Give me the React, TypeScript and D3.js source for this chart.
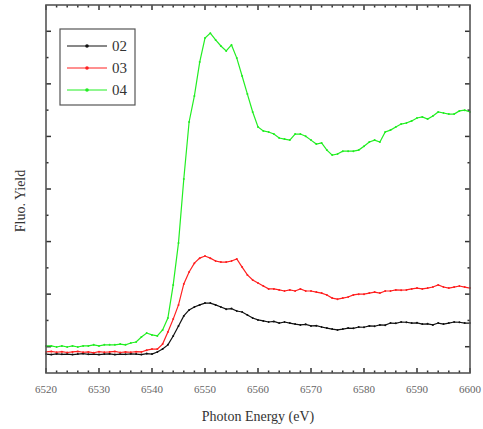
import React, { useEffect, useRef } from "react";
import * as d3 from "d3";

// photon energy grid (eV), one reading per eV
const energies = d3.range(6520, 6601);

const series02 = [
  0.72, 0.70, 0.73, 0.71, 0.72, 0.70, 0.72, 0.74, 0.71, 0.72, 0.70, 0.72, 0.73, 0.70, 0.72, 0.71,
  0.73, 0.72, 0.70, 0.74, 0.72, 0.80, 0.91, 1.07, 1.41, 1.79, 2.17, 2.40, 2.51, 2.59, 2.66, 2.66,
  2.59, 2.51, 2.43, 2.45, 2.36, 2.32, 2.21, 2.09, 2.02, 1.98, 1.94, 1.96, 1.90, 1.94, 1.90, 1.86,
  1.83, 1.85, 1.79, 1.80, 1.75, 1.71, 1.67, 1.64, 1.67, 1.71, 1.70, 1.75, 1.74, 1.79, 1.78, 1.83,
  1.82, 1.90, 1.89, 1.94, 1.93, 1.90, 1.91, 1.86, 1.87, 1.83, 1.90, 1.86, 1.90, 1.94, 1.93, 1.90,
  1.90,
];

const series03 = [
  0.80, 0.82, 0.79, 0.81, 0.78, 0.80, 0.82, 0.79, 0.80, 0.77, 0.81, 0.79, 0.80, 0.82, 0.78, 0.80,
  0.79, 0.81, 0.80, 0.87, 0.91, 0.91, 1.10, 1.56, 2.05, 2.59, 3.39, 3.84, 4.18, 4.37, 4.45, 4.37,
  4.26, 4.22, 4.22, 4.26, 4.34, 4.03, 3.73, 3.54, 3.42, 3.31, 3.20, 3.20, 3.16, 3.12, 3.16, 3.12,
  3.20, 3.12, 3.12, 3.08, 3.04, 2.97, 2.85, 2.81, 2.85, 2.89, 2.97, 3.00, 3.00, 3.04, 3.08, 3.04,
  3.12, 3.12, 3.16, 3.15, 3.16, 3.20, 3.23, 3.20, 3.23, 3.27, 3.35, 3.27, 3.23, 3.27, 3.31, 3.27,
  3.23,
];

const series04 = [
  1.03, 1.03, 0.99, 1.03, 0.99, 1.03, 0.99, 1.03, 1.03, 1.07, 1.03, 1.07, 1.07, 1.07, 1.10, 1.07,
  1.14, 1.18, 1.37, 1.52, 1.45, 1.41, 1.64, 2.09, 3.35, 4.95, 7.38, 9.55, 10.54, 11.83, 12.74,
  12.93, 12.67, 12.44, 12.25, 12.48, 11.98, 11.30, 10.61, 9.93, 9.36, 9.21, 9.17, 9.09, 8.94, 8.90,
  8.86, 9.09, 9.09, 9.01, 8.86, 8.71, 8.75, 8.48, 8.29, 8.33, 8.44, 8.44, 8.44, 8.48, 8.63, 8.79,
  8.86, 8.79, 9.17, 9.24, 9.36, 9.47, 9.51, 9.59, 9.70, 9.74, 9.66, 9.78, 9.93, 9.89, 9.85, 9.85,
  9.97, 10.0, 9.93,
];

const seriesNames = ["02", "03", "04"];
const seriesColors = ["#111111", "#ff2020", "#22ee22"];
const xTicks = [6520, 6530, 6540, 6550, 6560, 6570, 6580, 6590, 6600];

const W = 483;
const H = 429;
const margin = { top: 5, right: 13, bottom: 56, left: 46 };

const App = () => {
  const ref = useRef<SVGSVGElement>(null);

  useEffect(() => {
    const svg = d3.select(ref.current);
    svg.selectAll("*").remove();

    const x = d3
      .scaleLinear()
      .domain([6520, 6600])
      .range([margin.left, W - margin.right]);
    const y = d3
      .scaleLinear()
      .domain([0, 14])
      .range([H - margin.bottom, margin.top]);

    const all = [series02, series03, series04];

    // frame ticks, pointing inward
    const frame = svg.append("g").attr("stroke", "#333").attr("stroke-width", 1.5);
    d3.range(6520, 6601, 2).forEach((e) => {
      const len = e % 10 === 0 ? 5 : 2.5;
      frame.append("line").attr("x1", x(e)).attr("x2", x(e))
        .attr("y1", y(0)).attr("y2", y(0) - len);
      frame.append("line").attr("x1", x(e)).attr("x2", x(e))
        .attr("y1", y(14)).attr("y2", y(14) + len);
    });
    d3.range(1, 14).forEach((v) => {
      const len = v % 2 === 1 ? 5 : 2.5;
      frame.append("line").attr("x1", x(6520)).attr("x2", x(6520) + len)
        .attr("y1", y(v)).attr("y2", y(v));
      frame.append("line").attr("x1", x(6600)).attr("x2", x(6600) - len)
        .attr("y1", y(v)).attr("y2", y(v));
    });

    const line = d3
      .line<number>()
      .x((_, i) => x(energies[i]))
      .y((d) => y(d));

    all.forEach((s, k) => {
      svg.append("path")
        .datum(s)
        .attr("d", line)
        .attr("fill", "none")
        .attr("stroke", seriesColors[k])
        .attr("stroke-width", 1.2);
      svg.append("g")
        .selectAll("circle")
        .data(s)
        .join("circle")
        .attr("cx", (_, i) => x(energies[i]))
        .attr("cy", (d) => y(d))
        .attr("r", 1)
        .attr("fill", seriesColors[k]);
    });

    svg.append("rect")
      .attr("x", x(6520)).attr("y", y(14))
      .attr("width", x(6600) - x(6520)).attr("height", y(0) - y(14))
      .attr("fill", "none").attr("stroke", "#555").attr("stroke-width", 1.6);

    // tick labels
    svg.append("g")
      .selectAll("text")
      .data(xTicks)
      .join("text")
      .attr("x", (d) => x(d))
      .attr("y", y(0) + 20)
      .attr("text-anchor", "middle")
      .attr("font-family", "Liberation Serif, serif")
      .attr("font-size", 11)
      .attr("fill", "#666")
      .text((d) => d);

    svg.append("text")
      .attr("x", (x(6520) + x(6600)) / 2)
      .attr("y", 421)
      .attr("text-anchor", "middle")
      .attr("font-family", "Liberation Serif, serif")
      .attr("font-size", 14)
      .attr("fill", "#333")
      .text("Photon Energy (eV)");

    svg.append("text")
      .attr("transform", `translate(25,${(y(0) + y(14)) / 2 + 12}) rotate(-90)`)
      .attr("text-anchor", "middle")
      .attr("font-family", "Liberation Serif, serif")
      .attr("font-size", 14)
      .attr("fill", "#333")
      .text("Fluo. Yield");

    // legend
    const lg = svg.append("g").attr("transform", "translate(60,29)");
    lg.append("rect")
      .attr("width", 75).attr("height", 76)
      .attr("fill", "white").attr("stroke", "#555").attr("stroke-width", 1.2);
    seriesNames.forEach((n, k) => {
      const yy = 17 + k * 22;
      lg.append("line").attr("x1", 7).attr("x2", 47).attr("y1", yy).attr("y2", yy)
        .attr("stroke", seriesColors[k]).attr("stroke-width", 1);
      lg.append("circle").attr("cx", 27).attr("cy", yy).attr("r", 1.8)
        .attr("fill", seriesColors[k]);
      lg.append("text").attr("x", 52).attr("y", yy + 5)
        .attr("font-family", "Liberation Serif, serif")
        .attr("font-size", 15).attr("fill", "#333")
        .text(n);
    });
  }, []);

  return (
    <svg
      ref={ref}
      width={W}
      height={H}
      style={{ position: "absolute", left: 0, top: 0, background: "white" }}
    />
  );
};

export default App;
